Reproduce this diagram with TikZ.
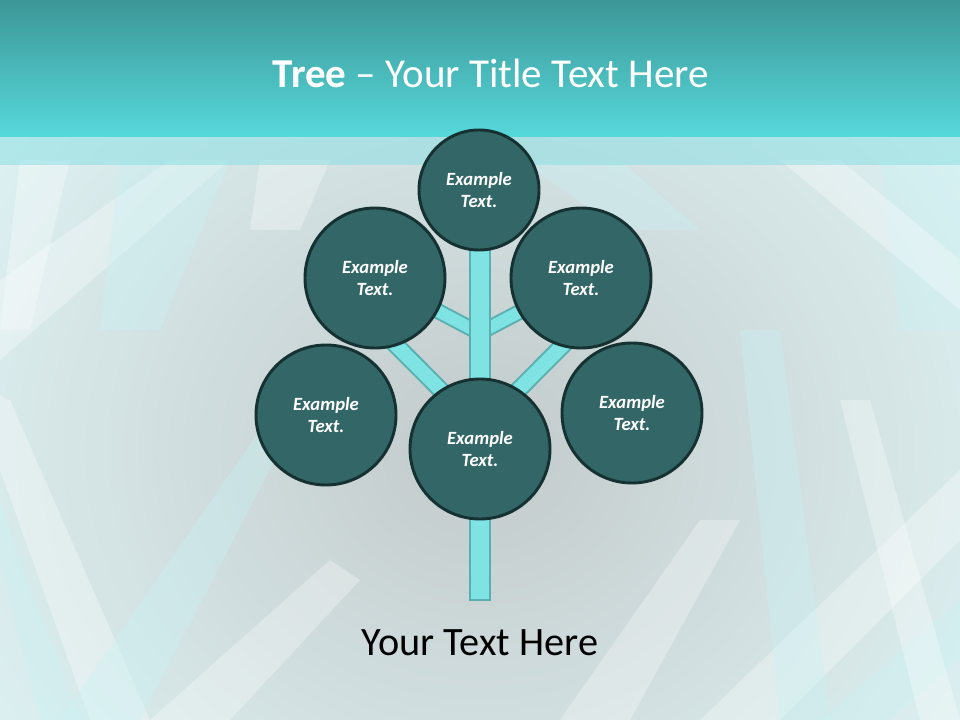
\documentclass[tikz,border=0pt]{standalone}
\usepackage{fontspec}
\setmainfont{Carlito}
\definecolor{barTop}{HTML}{3D9797}
\definecolor{barBot}{HTML}{56D8DB}
\definecolor{bandC}{HTML}{86DFE2}
\definecolor{bgMid}{HTML}{C3CACB}
\definecolor{bgEdge}{HTML}{E2F8F9}
\definecolor{streakC}{HTML}{C8F3F5}
\definecolor{circFill}{HTML}{336666}
\definecolor{circLine}{HTML}{163131}
\definecolor{stemFill}{HTML}{7FE3E3}
\definecolor{stemLine}{HTML}{5AAFB0}
\tikzset{
  bubble/.style={circle, fill=circFill, draw=circLine, line width=2.2pt,
    minimum size=105pt, inner sep=0pt, align=center, text=white,
    font=\fontsize{14}{17}\selectfont\bfseries\itshape},
  bubbleS/.style={bubble, minimum size=90pt},
  limb/.style={draw=stemLine, line width=1.5pt, double=stemFill, double distance=10.5pt},
  twig/.style={draw=stemLine, line width=1.5pt, double=stemFill, double distance=9pt},
  stem/.style={rectangle, fill=stemFill, draw=stemLine, line width=1.5pt,
    minimum width=15pt, minimum height=270pt, inner sep=0pt},
  streak/.style={fill=white, opacity=0.3},
  streakB/.style={fill=streakC, opacity=0.35}
}
\begin{document}
\begin{tikzpicture}[x=0.75pt,y=-0.75pt]
\useasboundingbox (0,0) rectangle (960,720);
% background
\fill[bgEdge] (0,137) rectangle (960,720);
\begin{scope}
  \clip (0,137) rectangle (960,720);
  \shade[inner color=bgMid, outer color=bgEdge] (480,450) ellipse [x radius=700, y radius=620];
  % decorative streaks
  \fill[streak] (0,470) -- (90,720) -- (150,720) -- (10,400) -- (0,395) -- cycle;
  \fill[streakB] (0,560) -- (40,720) -- (80,720) -- (0,500) -- cycle;
  \fill[streak] (0,280) -- (170,160) -- (230,160) -- (0,360) -- cycle;
  \fill[streakB] (60,720) -- (260,430) -- (290,430) -- (140,720) -- cycle;
  \fill[streak] (150,720) -- (330,560) -- (360,580) -- (230,720) -- cycle;
  \fill[streakB] (120,160) -- (230,160) -- (160,330) -- (100,330) -- cycle;
  \fill[streak] (20,160) -- (70,160) -- (30,330) -- (0,330) -- cycle;
  \fill[streak] (700,720) -- (960,470) -- (960,540) -- (780,720) -- cycle;
  \fill[streakB] (820,720) -- (960,600) -- (960,660) -- (890,720) -- cycle;
  \fill[streak] (560,720) -- (700,520) -- (740,520) -- (630,720) -- cycle;
  \fill[streakB] (880,160) -- (960,160) -- (960,330) -- (900,330) -- cycle;
  \fill[streak] (780,160) -- (840,160) -- (960,260) -- (960,310) -- cycle;
  \fill[streakB] (740,330) -- (780,330) -- (830,720) -- (780,720) -- cycle;
  \fill[streak] (840,400) -- (870,400) -- (960,720) -- (920,720) -- cycle;
  \fill[streakB] (520,160) -- (620,160) -- (700,230) -- (620,230) -- cycle;
  \fill[streak] (260,160) -- (330,160) -- (300,230) -- (250,230) -- cycle;
  \fill[bandC, opacity=0.5] (0,137) rectangle (960,165);
\end{scope}
% title bar
\shade[top color=barTop, bottom color=barBot] (0,0) rectangle (960,137);
\node[anchor=base, text=white, font=\fontsize{30.8}{36}\selectfont] (title) at (491,88)
  {\bfseries Tree\mdseries{} – Your Title Text Here};
% joints and branch ends
\coordinate (j1) at (479.5,333);
\coordinate (j2) at (479.5,429);
\coordinate (el) at (372,321);
\coordinate (er) at (587,321);
\coordinate (ulc) at (375,278);
\coordinate (urc) at (584,278);
% branches
\draw[twig] (j1) -- (ulc);
\draw[twig] (j1) -- (urc);
\draw[limb] (j2) -- (el);
\draw[limb] (j2) -- (er);
% trunk
\node[stem] (trunk) at (479.5,420) {};
% circles
\node[bubbleS] (t)  at (479,190) {Example\\Text.};
\node[bubble]  (ul) at (375,278) {Example\\Text.};
\node[bubble]  (ur) at (581,278) {Example\\Text.};
\node[bubble]  (ll) at (326,415) {Example\\Text.};
\node[bubble]  (lr) at (632,413) {Example\\Text.};
\node[bubble]  (c)  at (480,449) {Example\\Text.};
% caption
\node[anchor=base, text=black, font=\fontsize{30.2}{35}\selectfont] (cap) at (480,655) {Your Text Here};
\end{tikzpicture}
\end{document}
